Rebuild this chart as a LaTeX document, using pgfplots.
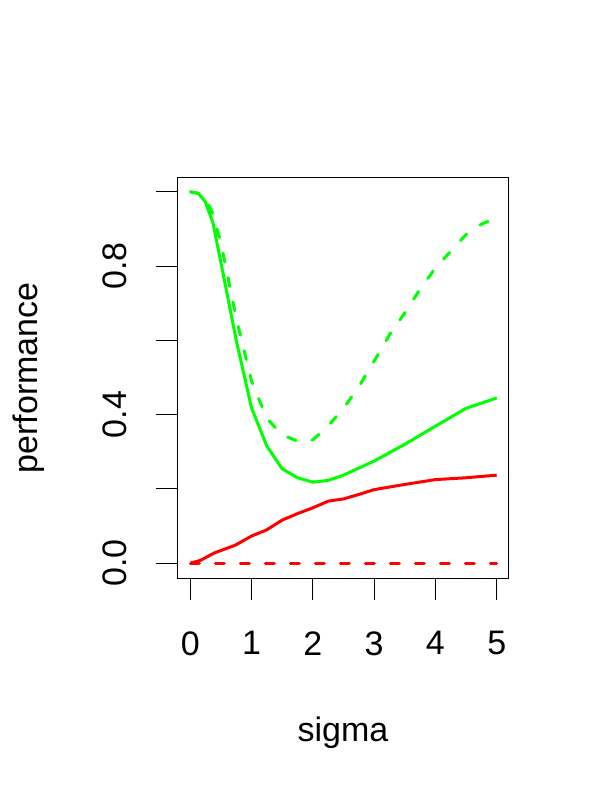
\documentclass[border=0pt]{standalone}
\usepackage{fontspec}
\setmainfont{Liberation Sans}
\usepackage{pgfplots}
\pgfplotsset{compat=1.18}
\definecolor{rgreen}{RGB}{0,255,0}
\definecolor{rred}{RGB}{255,0,0}
\begin{document}
\begin{tikzpicture}
\useasboundingbox (0,0) rectangle (300pt,400pt);
\begin{axis}[
    at={(89pt,111pt)}, anchor=south west,
    scale only axis, width=165.5pt, height=200.5pt,
    xmin=-0.2, xmax=5.2, ymin=-0.04, ymax=1.04,
    axis line style={line width=0.5pt},
    tick align=outside, tick pos=left,
    major tick length=11pt,
    tick style={black, line width=0.5pt},
    xtick={0,1,2,3,4,5},
    ytick={0,0.2,0.4,0.6,0.8,1},
    yticklabels={0.0,,0.4,,0.8,},
    /pgf/number format/assume math mode=true,
    ticklabel style={font=\fontsize{17}{20}\selectfont},
    xticklabel style={inner sep=0pt, anchor=north, yshift=-15.5pt},
    yticklabel style={inner sep=0pt, rotate=90, anchor=south, yshift=14.5pt},
    clip=false,
  ]
  % green solid
  \addplot[rgreen, line width=1.5pt] coordinates {
    (0,1.0)(0.13,0.996)(0.24,0.975)(0.37,0.917)(0.5,0.81)(0.75,0.60)
    (1,0.418)(1.25,0.315)(1.5,0.254)(1.75,0.23)(2,0.218)(2.25,0.223)
    (2.5,0.237)(3,0.275)(3.5,0.32)(4,0.369)(4.5,0.417)(5,0.445)
  };
  % green dashed
  \addplot[rgreen, line width=1.5pt, line cap=round, dash pattern=on 4.5pt off 8pt] coordinates {
    (0,1.0)(0.13,0.996)(0.25,0.985)(0.37,0.94)(0.5,0.863)(0.75,0.66)
    (1,0.49)(1.25,0.39)(1.5,0.345)(1.75,0.329)(2,0.332)(2.25,0.37)
    (2.5,0.417)(2.75,0.475)(3,0.544)(3.25,0.615)(3.5,0.674)(3.75,0.738)
    (4,0.795)(4.25,0.84)(4.5,0.885)(4.75,0.913)(5,0.93)
  };
  % red solid
  \addplot[rred, line width=1.5pt] coordinates {
    (0,0)(0.16,0.007)(0.4,0.028)(0.73,0.048)(1,0.073)(1.24,0.089)
    (1.5,0.116)(1.76,0.134)(2,0.149)(2.25,0.167)(2.5,0.173)(2.75,0.185)
    (3,0.198)(3.5,0.212)(4,0.225)(4.5,0.23)(5,0.237)
  };
  % red dashed
  \addplot[rred, line width=1.5pt, line cap=round, dash pattern=on 4.5pt off 8pt] coordinates {
    (0,0)(5,0)
  };
\end{axis}
\node[anchor=base, font=\fontsize{17}{20}\selectfont] at (171.5pt,29pt) {sigma};
\node[anchor=base, rotate=90, font=\fontsize{17}{20}\selectfont] at (18.5pt,211pt) {performance};
\end{tikzpicture}
\end{document}
